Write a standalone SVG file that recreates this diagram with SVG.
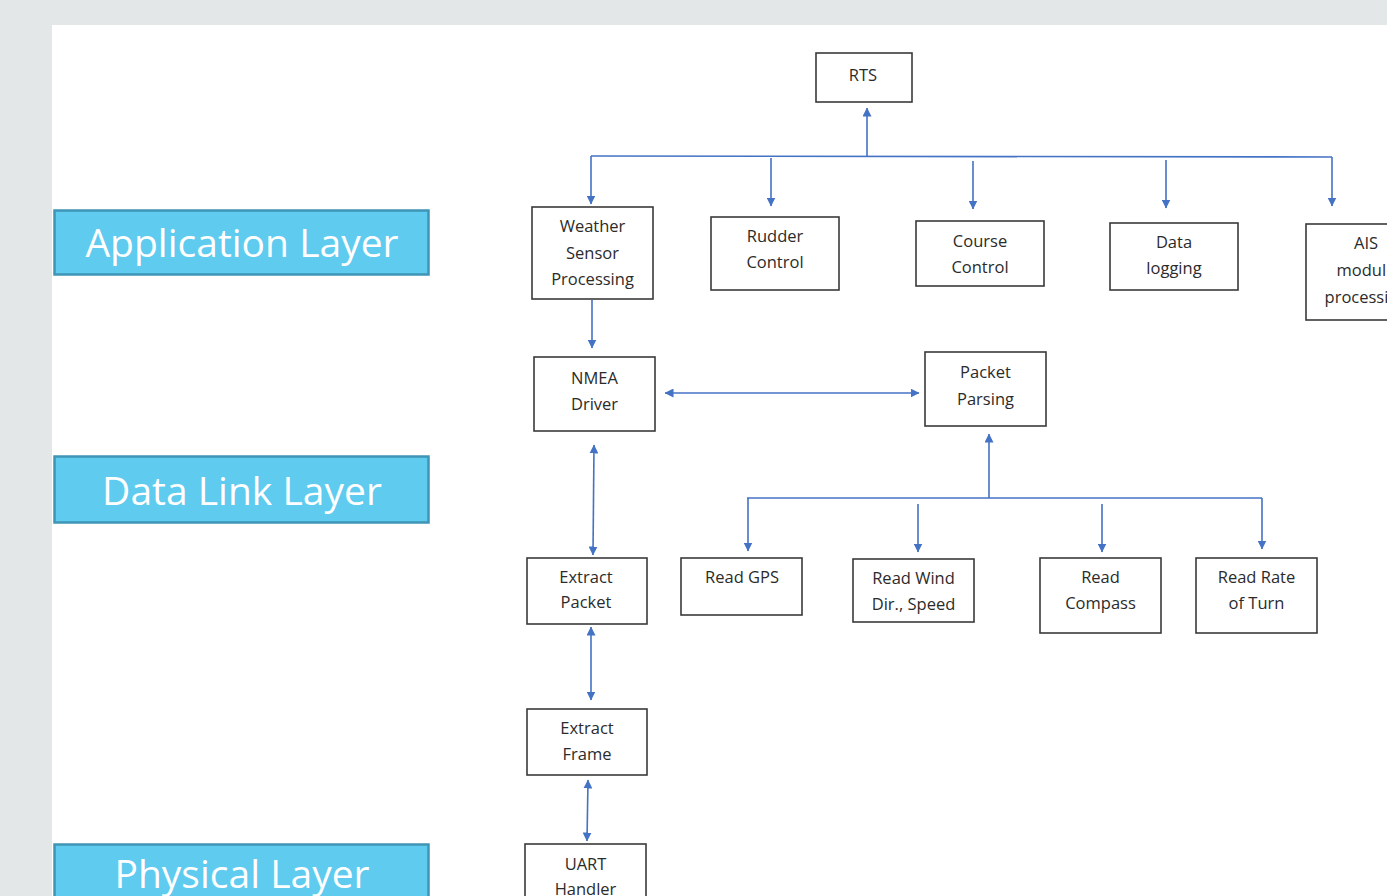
<svg xmlns="http://www.w3.org/2000/svg" width="1387" height="896" viewBox="0 0 1387 896">
<defs>
<marker id="ah" viewBox="0 0 9 9" refX="8.5" refY="4.5" markerWidth="9" markerHeight="9" markerUnits="userSpaceOnUse" orient="auto-start-reverse">
<path d="M0,0 L9,4.5 L0,9 z" fill="#4472c4"/>
</marker>
</defs>
<style>
.node rect{fill:#fff;stroke:#3a3a3a;stroke-width:1.6}
.node text{font-family:"Open Sans","Noto Sans",sans-serif;font-size:16.5px;fill:#2b2b2b;text-anchor:middle}
.layer rect{fill:#5ecbef;stroke:#3f95b5;stroke-width:2.5}
.layer text{font-family:"Open Sans","Noto Sans",sans-serif;font-size:39px;fill:#fff;text-anchor:middle}
#connectors path{fill:none;stroke:#4472c4;stroke-width:1.6}
.a{marker-end:url(#ah)}
.b{marker-start:url(#ah);marker-end:url(#ah)}
</style>
<rect x="0" y="0" width="1387" height="896" fill="#e3e7e8"/>
<rect x="52" y="25" width="1335" height="871" fill="#fff"/>

<g id="layer-application" class="layer"><rect x="54.5" y="210.5" width="374" height="64"/><text x="242" y="257">Application Layer</text></g>
<g id="layer-datalink" class="layer"><rect x="54.5" y="456.5" width="374" height="66"/><text x="242" y="505">Data Link Layer</text></g>
<g id="layer-physical" class="layer"><rect x="54.5" y="844.5" width="374" height="60"/><text x="242" y="888">Physical Layer</text></g>

<g id="connectors">
<path class="a" d="M867,156 L867,108"/>
<path d="M591,156 L1332,157"/>
<path class="a" d="M591,156 L591,204"/>
<path class="a" d="M771,158 L771,206"/>
<path class="a" d="M973,161 L973,209"/>
<path class="a" d="M1166,160 L1166,208"/>
<path class="a" d="M1332,157 L1332,206"/>
<path class="a" d="M592,300 L592,348"/>
<path class="b" d="M665,393 L919,393"/>
<path class="b" d="M594,445 L593,555"/>
<path class="a" d="M989,498 L989,434"/>
<path d="M747,498 L1262,498"/>
<path class="a" d="M748,498 L748,551"/>
<path class="a" d="M918,504 L918,552"/>
<path class="a" d="M1102,504 L1102,552"/>
<path class="a" d="M1262,498 L1262,549"/>
<path class="b" d="M591,627 L591,700"/>
<path class="b" d="M588,780 L587,841"/>
</g>

<g id="node-rts" class="node"><rect x="816" y="53" width="96" height="49"/><text x="863" y="81">RTS</text></g>
<g id="node-weather" class="node"><rect x="532" y="207" width="121" height="92"/><text x="592.5" y="232">Weather</text><text x="592.5" y="259">Sensor</text><text x="592.5" y="285">Processing</text></g>
<g id="node-rudder" class="node"><rect x="711" y="217" width="128" height="73"/><text x="775" y="242">Rudder</text><text x="775" y="268">Control</text></g>
<g id="node-course" class="node"><rect x="916" y="221" width="128" height="65"/><text x="980" y="247">Course</text><text x="980" y="273">Control</text></g>
<g id="node-datalog" class="node"><rect x="1110" y="223" width="128" height="67"/><text x="1174" y="248">Data</text><text x="1174" y="274">logging</text></g>
<g id="node-ais" class="node"><rect x="1306" y="224" width="120" height="96"/><text x="1366" y="249">AIS</text><text x="1366" y="276">module</text><text x="1366" y="303">processing</text></g>
<g id="node-nmea" class="node"><rect x="534" y="357" width="121" height="74"/><text x="594.5" y="384">NMEA</text><text x="594.5" y="410">Driver</text></g>
<g id="node-packet-parsing" class="node"><rect x="925" y="352" width="121" height="74"/><text x="985.5" y="378">Packet</text><text x="985.5" y="405">Parsing</text></g>
<g id="node-extract-packet" class="node"><rect x="527" y="558" width="120" height="66"/><text x="586" y="583">Extract</text><text x="586" y="608">Packet</text></g>
<g id="node-gps" class="node"><rect x="681" y="558" width="121" height="57"/><text x="742" y="583">Read GPS</text></g>
<g id="node-wind" class="node"><rect x="853" y="559" width="121" height="63"/><text x="913.5" y="584">Read Wind</text><text x="913.5" y="610">Dir., Speed</text></g>
<g id="node-compass" class="node"><rect x="1040" y="558" width="121" height="75"/><text x="1100.5" y="583">Read</text><text x="1100.5" y="609">Compass</text></g>
<g id="node-rot" class="node"><rect x="1196" y="558" width="121" height="75"/><text x="1256.5" y="583">Read Rate</text><text x="1256.5" y="609">of Turn</text></g>
<g id="node-extract-frame" class="node"><rect x="527" y="709" width="120" height="66"/><text x="587" y="734">Extract</text><text x="587" y="760">Frame</text></g>
<g id="node-uart" class="node"><rect x="525" y="844" width="121" height="70"/><text x="585.5" y="870">UART</text><text x="585.5" y="895">Handler</text></g>
</svg>
